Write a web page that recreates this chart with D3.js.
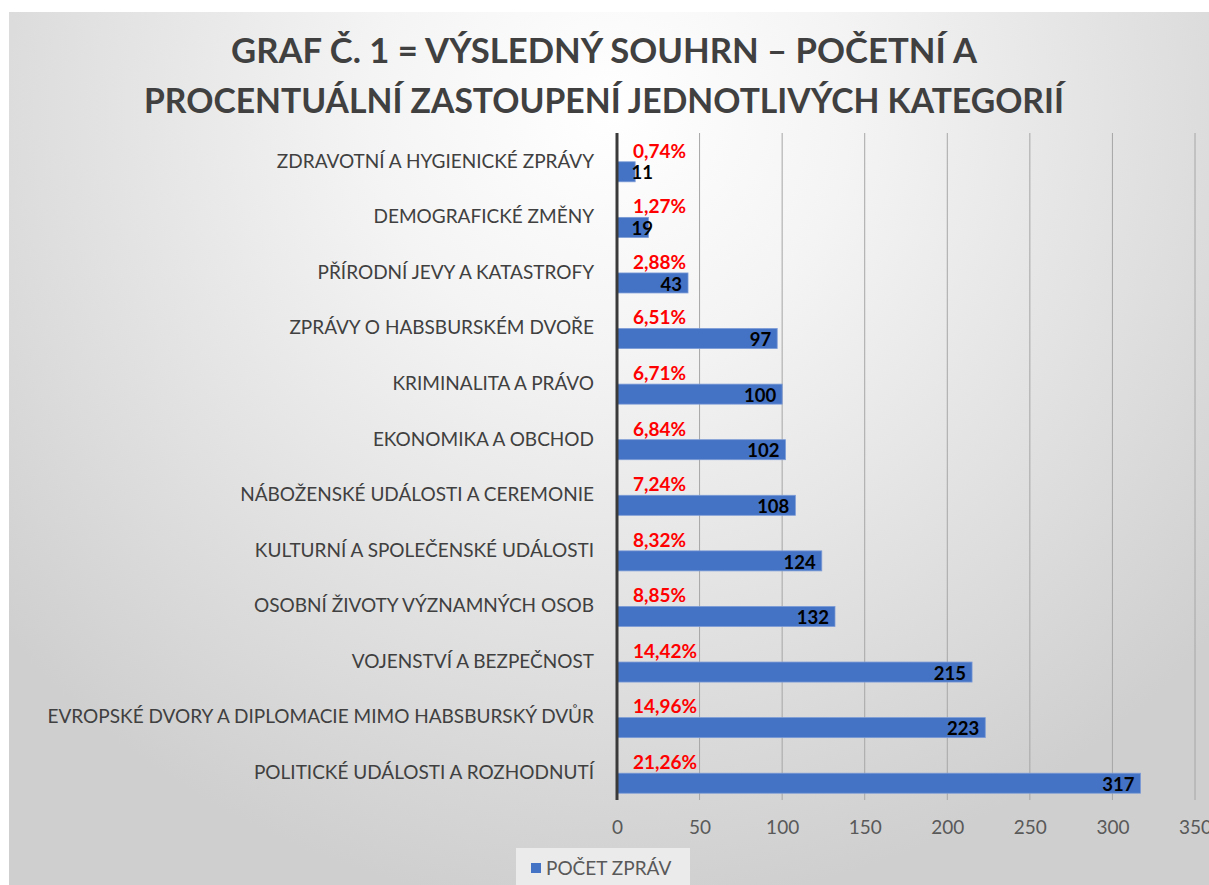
<!DOCTYPE html>
<html>
<head>
<meta charset="utf-8">
<script src="https://cdn.jsdelivr.net/npm/d3@7"></script>
<style>
  body { margin: 0; background: #fff; }
  svg { display: block; font-family: "Lato", "Open Sans", sans-serif; }
</style>
</head>
<body>
<div id="chart"></div>
<script>
// chart data (top to bottom)
var categories = [
    "ZDRAVOTNÍ A HYGIENICKÉ ZPRÁVY",
    "DEMOGRAFICKÉ ZMĚNY",
    "PŘÍRODNÍ JEVY A KATASTROFY",
    "ZPRÁVY O HABSBURSKÉM DVOŘE",
    "KRIMINALITA A PRÁVO",
    "EKONOMIKA A OBCHOD",
    "NÁBOŽENSKÉ UDÁLOSTI A CEREMONIE",
    "KULTURNÍ A SPOLEČENSKÉ UDÁLOSTI",
    "OSOBNÍ ŽIVOTY VÝZNAMNÝCH OSOB",
    "VOJENSTVÍ A BEZPEČNOST",
    "EVROPSKÉ DVORY A DIPLOMACIE MIMO HABSBURSKÝ DVŮR",
    "POLITICKÉ UDÁLOSTI A ROZHODNUTÍ"
];
var counts = [11, 19, 43, 97, 100, 102, 108, 124, 132, 215, 223, 317];
var percents = ["0,74%", "1,27%", "2,88%", "6,51%", "6,71%", "6,84%", "7,24%", "8,32%", "8,85%", "14,42%", "14,96%", "21,26%"];
var xTicks = [0, 50, 100, 150, 200, 250, 300, 350];
var titleLines = ["GRAF Č. 1 = VÝSLEDNÝ SOUHRN – POČETNÍ A", "PROCENTUÁLNÍ ZASTOUPENÍ JEDNOTLIVÝCH KATEGORIÍ"];
var legendLabel = "POČET ZPRÁV";

var width = 1209,
    height = 885;

var svg = d3.select("#chart").append("svg")
    .attr("width", width)
    .attr("height", height);

// soft grey background like the office chart
var defs = svg.append("defs");
var grad = defs.append("radialGradient")
    .attr("id", "bg")
    .attr("gradientUnits", "userSpaceOnUse")
    .attr("cx", 610).attr("cy", 110).attr("r", 800);
grad.append("stop").attr("offset", "0").attr("stop-color", "#ffffff");
grad.append("stop").attr("offset", "0.3").attr("stop-color", "#f4f4f4");
grad.append("stop").attr("offset", "1").attr("stop-color", "#cfcfcf");

svg.append("rect")
    .attr("x", 9).attr("y", 12)
    .attr("width", width - 9).attr("height", height - 12)
    .attr("fill", "url(#bg)");

// title (narrowed to the width of the original condensed font)
svg.selectAll(".title")
    .data(titleLines)
    .enter().append("text")
    .attr("class", "title")
    .attr("x", 604)
    .attr("y", function(d, i) { return 63 + i * 50; })
    .attr("text-anchor", "middle")
    .attr("font-size", 34)
    .attr("font-weight", "bold")
    .attr("fill", "#404040")
    .attr("textLength", function(d, i) { return i == 0 ? 746 : 920; })
    .attr("lengthAdjust", "spacingAndGlyphs")
    .text(function(d) { return d; });

// scales
var x = d3.scaleLinear().domain([0, 350]).range([617, 1195]);
var y = d3.scaleBand().domain(categories).range([133, 800]);

// vertical gridlines
svg.selectAll(".grid")
    .data(xTicks.slice(1))
    .enter().append("line")
    .attr("class", "grid")
    .attr("x1", function(d) { return x(d); })
    .attr("x2", function(d) { return x(d); })
    .attr("y1", 133).attr("y2", 800)
    .attr("stroke", "#a6a6a6")
    .attr("stroke-width", 1);

// x axis tick labels
var xAxis = svg.append("g")
    .attr("transform", "translate(0,800)")
    .call(d3.axisBottom(x).tickValues(xTicks).tickSize(0).tickPadding(21));
xAxis.select(".domain").remove();
xAxis.selectAll("text")
    .attr("font-family", "Lato")
    .attr("font-size", 19)
    .attr("fill", "#595959");

// category labels
svg.selectAll(".cat")
    .data(categories)
    .enter().append("text")
    .attr("class", "cat")
    .attr("x", 594)
    .attr("y", function(d) { return y(d) + y.bandwidth() / 2; })
    .attr("dy", "0.36em")
    .attr("text-anchor", "end")
    .attr("font-size", 19)
    .attr("fill", "#404040")
    .text(function(d) { return d; });

// bars
svg.selectAll(".bar")
    .data(counts)
    .enter().append("rect")
    .attr("class", "bar")
    .attr("x", x(0))
    .attr("y", function(d, i) { return y(categories[i]) + y.bandwidth() / 2 + 1; })
    .attr("width", function(d) { return x(d) - x(0); })
    .attr("height", 20)
    .attr("fill", "#4472c4")
    .attr("stroke", "#7a9ad6")
    .attr("stroke-width", 0.8);

// axis line
svg.append("line")
    .attr("x1", x(0)).attr("x2", x(0))
    .attr("y1", 133).attr("y2", 800)
    .attr("stroke", "#3a3a3a")
    .attr("stroke-width", 3);

// count labels inside bar end
svg.selectAll(".count")
    .data(counts)
    .enter().append("text")
    .attr("class", "count")
    .attr("x", function(d) { return Math.max(x(d) - 6, x(0) + 36); })
    .attr("y", function(d, i) { return y(categories[i]) + y.bandwidth() / 2 + 12; })
    .attr("dy", "0.36em")
    .attr("text-anchor", "end")
    .attr("font-size", 18.5)
    .attr("font-weight", "bold")
    .attr("fill", "#000")
    .text(function(d) { return d; });

// percentage labels above bars
svg.selectAll(".pct")
    .data(percents)
    .enter().append("text")
    .attr("class", "pct")
    .attr("x", 633)
    .attr("y", function(d, i) { return y(categories[i]) + y.bandwidth() / 2 - 10; })
    .attr("dy", "0.36em")
    .attr("font-size", 19)
    .attr("font-weight", "bold")
    .attr("fill", "#ff0000")
    .text(function(d) { return d; });

// legend
var legend = svg.append("g");
legend.append("rect")
    .attr("x", 516).attr("y", 848)
    .attr("width", 174).attr("height", 40)
    .attr("fill", "#ebebeb");
legend.append("rect")
    .attr("x", 531).attr("y", 863)
    .attr("width", 10).attr("height", 10)
    .attr("fill", "#4472c4");
legend.append("text")
    .attr("x", 546).attr("y", 868)
    .attr("dy", "0.36em")
    .attr("font-size", 19)
    .attr("fill", "#595959")
    .text(legendLabel);
</script>
</body>
</html>
